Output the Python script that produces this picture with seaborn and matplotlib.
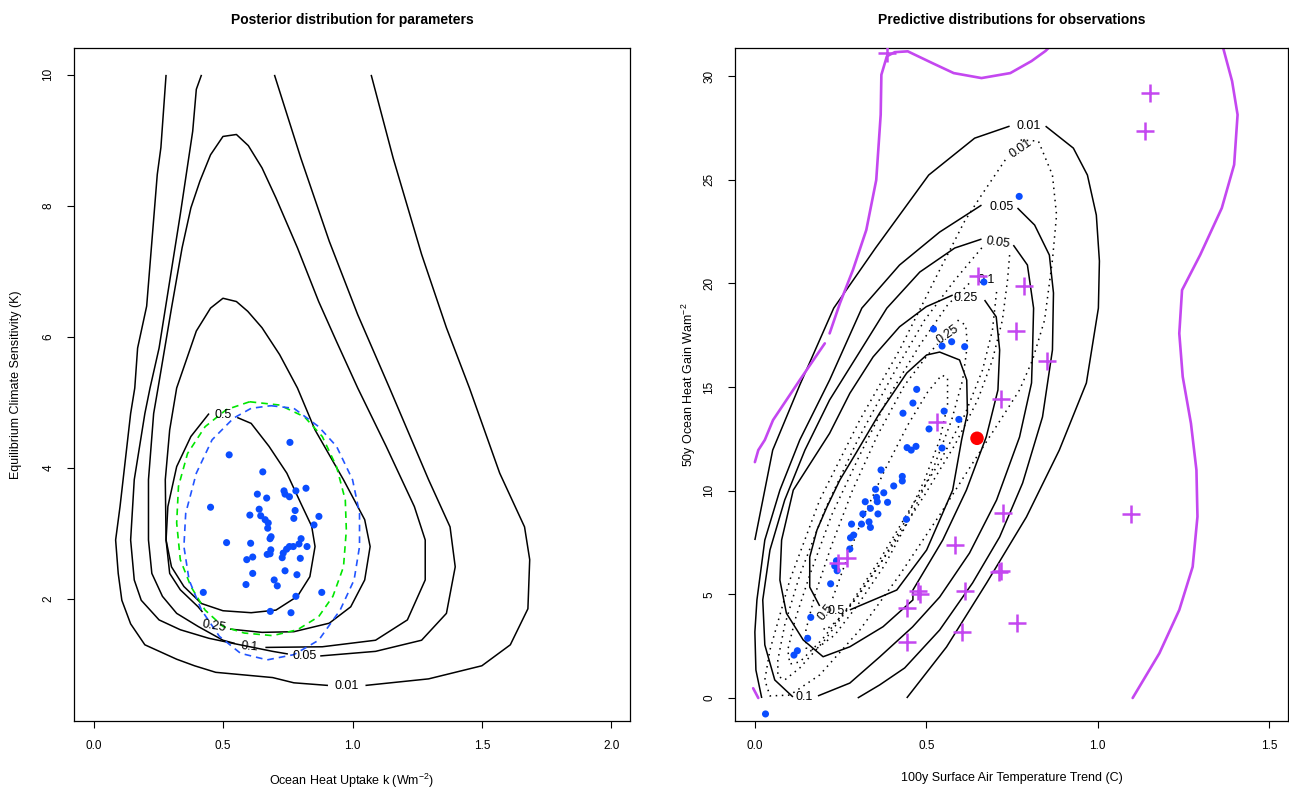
import numpy as np
import matplotlib
matplotlib.use("Agg")
import matplotlib.pyplot as plt
import seaborn as sns

sns.set_theme(style="white")
plt.rcParams["font.family"] = ["Liberation Sans", "DejaVu Sans"]
plt.rcParams["mathtext.default"] = "regular"
for key in ["text.color", "axes.labelcolor", "xtick.color", "ytick.color", "axes.edgecolor"]:
    plt.rcParams[key] = "black"

# ---------------- left panel: posterior of (k, S) ----------------
# ensemble members
k_pts = [0.758, 0.523, 0.653, 0.632, 0.668, 0.735, 0.739, 0.756, 0.781, 0.820,
         0.451, 0.639, 0.603, 0.645, 0.662, 0.674, 0.778, 0.773, 0.870, 0.851,
         0.672, 0.685, 0.681, 0.513, 0.606, 0.801, 0.793, 0.824, 0.756, 0.745,
         0.732, 0.771, 0.684, 0.681, 0.670, 0.614, 0.591, 0.728, 0.798, 0.739,
         0.614, 0.785, 0.697, 0.709, 0.588, 0.423, 0.881, 0.781, 0.682, 0.762]
s_pts = [4.39, 4.20, 3.94, 3.60, 3.54, 3.65, 3.60, 3.56, 3.65, 3.69,
         3.40, 3.37, 3.28, 3.27, 3.21, 3.16, 3.35, 3.23, 3.26, 3.13,
         3.08, 2.95, 2.92, 2.86, 2.85, 2.92, 2.84, 2.80, 2.80, 2.76,
         2.70, 2.80, 2.75, 2.69, 2.68, 2.64, 2.60, 2.63, 2.62, 2.43,
         2.39, 2.37, 2.29, 2.20, 2.22, 2.10, 2.10, 2.04, 1.81, 1.79]

# posterior contours, each a list of segments (gaps where labels sit)
post_001 = [
    [(0.279, 10.0), (0.259, 8.89), (0.245, 8.48), (0.204, 6.47), (0.169, 5.83), (0.158, 5.22),
     (0.142, 4.83), (0.101, 3.41), (0.084, 2.90), (0.094, 2.39), (0.108, 1.98), (0.142, 1.62),
     (0.197, 1.30), (0.320, 1.08), (0.389, 0.98), (0.471, 0.88), (0.691, 0.80), (0.773, 0.72),
     (0.905, 0.68)],
    [(1.050, 0.68), (1.294, 0.78), (1.500, 0.98), (1.610, 1.30), (1.678, 1.85), (1.685, 2.60),
     (1.665, 3.10), (1.569, 3.92), (1.452, 5.22), (1.363, 6.14), (1.267, 7.26), (1.157, 8.73),
     (1.072, 10.0)],
]
post_005 = [
    [(0.416, 10.0), (0.396, 9.78), (0.382, 9.14), (0.334, 7.87), (0.293, 6.85), (0.252, 5.83),
     (0.217, 5.22), (0.197, 4.83), (0.156, 3.82), (0.142, 2.90), (0.156, 2.29), (0.183, 1.98),
     (0.252, 1.68), (0.334, 1.53), (0.444, 1.40), (0.540, 1.32), (0.691, 1.20), (0.750, 1.16)],
    [(0.875, 1.13), (1.089, 1.20), (1.267, 1.37), (1.363, 1.78), (1.397, 2.49), (1.377, 3.10),
     (1.294, 3.82), (1.143, 5.22), (1.020, 6.34), (0.910, 7.46), (0.800, 8.73), (0.698, 10.0)],
]
post_01 = [
    [(0.663, 1.26), (0.883, 1.27), (1.089, 1.37), (1.212, 1.68), (1.281, 2.29), (1.281, 2.90),
     (1.239, 3.41), (1.130, 4.33), (1.020, 5.22), (0.938, 5.93), (0.869, 6.54), (0.787, 7.36),
     (0.704, 8.12), (0.650, 8.58), (0.597, 8.92), (0.551, 9.09), (0.499, 9.06), (0.451, 8.78),
     (0.410, 8.38), (0.375, 7.97), (0.341, 7.36), (0.300, 6.44), (0.248, 5.22), (0.231, 4.83),
     (0.211, 3.82), (0.211, 2.90), (0.224, 2.39), (0.265, 2.04), (0.320, 1.78), (0.403, 1.58),
     (0.499, 1.37), (0.545, 1.32)],
]
post_025 = [
    [(0.526, 1.54), (0.650, 1.49), (0.773, 1.50), (0.910, 1.63), (0.993, 1.88), (1.047, 2.29),
     (1.068, 2.80), (1.047, 3.21), (0.965, 3.82), (0.855, 4.58), (0.787, 5.22), (0.718, 5.73),
     (0.650, 6.14), (0.595, 6.39), (0.551, 6.54), (0.499, 6.59), (0.451, 6.44), (0.396, 6.09),
     (0.320, 5.22), (0.293, 4.58), (0.276, 3.82), (0.279, 2.90), (0.293, 2.39), (0.334, 2.14),
     (0.403, 1.88), (0.420, 1.80)],
]
post_05 = [
    [(0.554, 4.77), (0.608, 4.68), (0.677, 4.33), (0.746, 3.92), (0.800, 3.46), (0.842, 3.11),
     (0.855, 2.80), (0.835, 2.34), (0.787, 2.04), (0.704, 1.83), (0.608, 1.79), (0.499, 1.82),
     (0.416, 1.93), (0.348, 2.19), (0.300, 2.49), (0.279, 2.90), (0.286, 3.41), (0.320, 4.02),
     (0.375, 4.48), (0.445, 4.83)],
]
post_levels = ["0.01", "0.05", "0.1", "0.25", "0.5"]
post_label_k = [0.979, 0.814, 0.602, 0.464, 0.499]
post_label_s = [0.67, 1.13, 1.27, 1.58, 4.81]
post_label_rot = [0, 0, -5, -10, 0]

# prior (green) and ensemble (blue) ellipses
green_ring = [(0.602, 5.01), (0.718, 4.96), (0.814, 4.78), (0.883, 4.48), (0.938, 4.02),
              (0.972, 3.51), (0.976, 3.05), (0.965, 2.49), (0.924, 2.04), (0.869, 1.73),
              (0.787, 1.53), (0.691, 1.44), (0.581, 1.48), (0.499, 1.58), (0.430, 1.83),
              (0.375, 2.19), (0.334, 2.60), (0.320, 3.16), (0.327, 3.72), (0.362, 4.22),
              (0.430, 4.63), (0.512, 4.89), (0.602, 5.01)]
blue_ring = [(0.684, 4.95), (0.773, 4.91), (0.869, 4.63), (0.938, 4.33), (1.000, 3.82),
             (1.027, 3.31), (1.027, 2.80), (1.006, 2.29), (0.952, 1.83), (0.869, 1.37),
             (0.773, 1.15), (0.670, 1.07), (0.567, 1.17), (0.485, 1.43), (0.416, 1.83),
             (0.368, 2.29), (0.348, 2.80), (0.355, 3.31), (0.396, 3.92), (0.457, 4.43),
             (0.540, 4.76), (0.608, 4.91), (0.684, 4.95)]

# ---------------- right panel: predictive distributions ----------------
t_pts = [0.771, 0.668, 0.521, 0.546, 0.574, 0.612, 0.472, 0.461, 0.432, 0.552,
         0.595, 0.508, 0.444, 0.456, 0.470, 0.546, 0.368, 0.430, 0.430, 0.405,
         0.352, 0.376, 0.355, 0.387, 0.322, 0.357, 0.337, 0.315, 0.359, 0.442,
         0.282, 0.311, 0.333, 0.337, 0.288, 0.279, 0.277, 0.238, 0.233, 0.240,
         0.221, 0.163, 0.154, 0.124, 0.114, 0.031]
h_pts = [24.20, 20.07, 17.80, 16.98, 17.19, 16.95, 14.89, 14.23, 13.74, 13.84,
         13.44, 12.98, 12.08, 11.96, 12.14, 12.06, 11.00, 10.69, 10.47, 10.23,
         10.07, 9.90, 9.68, 9.44, 9.47, 9.47, 9.15, 8.88, 8.88, 8.62,
         8.39, 8.39, 8.50, 8.23, 7.86, 7.73, 7.19, 6.62, 6.37, 6.14,
         5.51, 3.89, 2.88, 2.28, 2.07, -0.77]

# observation-like crosses
t_obs = [0.385, 1.154, 1.139, 0.652, 0.784, 0.763, 0.853, 0.719, 0.530, 0.725, 1.098,
         0.585, 0.711, 0.717, 0.612, 0.475, 0.481, 0.443, 0.766, 0.603, 0.443, 0.242, 0.268]
h_obs = [31.1, 29.18, 27.35, 20.36, 19.87, 17.70, 16.26, 14.42, 13.31, 8.92, 8.88,
         7.38, 6.08, 6.13, 5.16, 5.16, 5.02, 4.34, 3.62, 3.18, 2.70, 6.51, 6.75]

t_best, h_best = [0.648], [12.53]

# solid: predictive incl. observation error
pred_05 = [[(0.277, 4.25), (0.414, 5.21), (0.501, 7.14), (0.577, 10.03), (0.603, 12.45),
            (0.620, 13.75), (0.618, 15.34), (0.597, 16.31), (0.539, 16.69), (0.501, 16.55),
            (0.443, 15.68), (0.364, 13.75), (0.297, 11.87), (0.248, 10.52), (0.210, 9.21),
            (0.181, 8.10), (0.160, 6.80), (0.160, 5.35), (0.189, 4.44)]]
pred_025 = [[(0.670, 19.20), (0.704, 18.39), (0.714, 16.79), (0.709, 14.86), (0.675, 12.60),
             (0.617, 10.03), (0.548, 7.62), (0.461, 5.21), (0.461, 4.73), (0.374, 3.44),
             (0.277, 2.47), (0.199, 1.99), (0.141, 2.80), (0.092, 4.09), (0.073, 5.69),
             (0.078, 7.62), (0.112, 10.03), (0.218, 12.77), (0.277, 14.70), (0.345, 16.46),
             (0.422, 17.91), (0.500, 18.88), (0.577, 19.44)]]
pred_01 = [[(0.184, 0.10), (0.277, 0.72), (0.364, 1.98), (0.460, 3.43), (0.539, 4.87),
            (0.626, 6.99), (0.705, 9.55), (0.772, 12.59), (0.807, 15.20), (0.810, 16.79),
            (0.813, 18.81), (0.795, 20.89), (0.754, 21.85)],
           [(0.661, 22.14), (0.583, 21.71), (0.481, 20.55), (0.385, 18.81), (0.300, 16.55),
            (0.218, 14.38), (0.146, 11.96), (0.087, 9.55), (0.044, 7.14), (0.023, 4.73),
            (0.029, 2.56), (0.058, 0.87), (0.111, 0.05)]]
pred_005 = [[(0.020, 0.0), (0.003, 1.35), (0.0, 3.18), (0.006, 4.73), (0.029, 7.62),
             (0.073, 10.03), (0.131, 12.45), (0.218, 15.34), (0.312, 18.81), (0.422, 20.89),
             (0.539, 22.48), (0.661, 23.78)],
            [(0.766, 23.64), (0.816, 22.82), (0.859, 21.37), (0.871, 19.54), (0.868, 16.79),
             (0.839, 13.56), (0.781, 10.37), (0.714, 7.77), (0.635, 5.55), (0.539, 3.28),
             (0.437, 1.45), (0.364, 0.63), (0.300, 0.0)]]
pred_001 = [[(0.0, 7.62), (0.052, 11.96), (0.131, 15.10), (0.230, 18.81), (0.352, 21.71),
             (0.507, 25.23), (0.641, 27.01), (0.743, 27.59)],
            [(0.848, 27.59), (0.929, 26.53), (0.970, 25.23), (0.996, 23.30), (1.005, 21.08),
             (1.002, 18.81), (0.967, 15.20), (0.888, 11.96), (0.792, 8.73), (0.676, 5.55),
             (0.559, 2.46), (0.443, 0.0)]]
pred_levels = ["0.01", "0.05", "0.25", "0.1", "0.5"]
pred_label_t = [0.798, 0.719, 0.616, 0.143, 0.238]
pred_label_h = [27.59, 23.67, 19.30, 0.06, 4.21]

# dotted: emulator only
emul_001 = [[(0.775, 26.92), (0.827, 26.87), (0.868, 25.23), (0.880, 23.30), (0.868, 21.13),
             (0.845, 18.23), (0.810, 16.31), (0.772, 14.86), (0.722, 13.56), (0.641, 11.48),
             (0.539, 8.83), (0.422, 5.93), (0.306, 3.28), (0.189, 1.11), (0.102, 0.14),
             (0.044, 0.10), (0.029, 0.87), (0.044, 2.32), (0.102, 5.69), (0.189, 9.55),
             (0.306, 13.41), (0.422, 16.79), (0.524, 20.16), (0.612, 23.01), (0.661, 24.26),
             (0.734, 26.05)]]
emul_005 = [[(0.743, 21.37), (0.737, 20.16), (0.722, 18.23), (0.693, 16.31), (0.650, 14.38),
             (0.583, 12.20), (0.495, 9.79), (0.393, 7.14), (0.291, 4.73), (0.204, 2.80),
             (0.131, 1.45), (0.087, 0.87), (0.067, 1.06), (0.067, 1.83), (0.087, 3.52),
             (0.131, 5.93), (0.204, 9.07), (0.300, 12.45), (0.402, 15.58), (0.495, 18.23),
             (0.583, 20.16), (0.664, 21.76)]]
emul_01 = [[(0.705, 19.59), (0.693, 17.75), (0.664, 15.82), (0.612, 13.65), (0.539, 11.38),
            (0.451, 9.07), (0.364, 6.66), (0.277, 4.49), (0.195, 2.80), (0.131, 1.74),
            (0.102, 1.64), (0.096, 2.32), (0.117, 3.76), (0.160, 5.93), (0.224, 8.83),
            (0.306, 11.72), (0.393, 14.62), (0.481, 17.03), (0.562, 18.96), (0.626, 20.02)]]
emul_025 = [[(0.591, 18.23), (0.615, 17.99), (0.620, 17.03), (0.606, 15.34), (0.574, 13.41),
             (0.524, 11.24), (0.457, 8.83), (0.379, 6.42), (0.300, 4.49), (0.233, 3.04),
             (0.175, 2.32), (0.149, 2.41), (0.149, 3.28), (0.175, 4.97), (0.224, 7.38),
             (0.285, 10.03), (0.358, 12.69), (0.437, 15.10), (0.504, 16.55), (0.533, 17.08)]]
emul_05 = [[(0.227, 4.82), (0.262, 6.42), (0.312, 8.59), (0.379, 11.00), (0.446, 13.17),
            (0.504, 14.76), (0.545, 15.58), (0.562, 15.44), (0.562, 14.13), (0.539, 12.45),
            (0.495, 10.52), (0.437, 8.49), (0.364, 6.42), (0.297, 4.82), (0.242, 3.76),
            (0.207, 3.28), (0.189, 3.47)]]
emul_levels = ["0.01", "0.05", "0.1", "0.25", "0.5"]
emul_label_t = [0.775, 0.709, 0.676, 0.562, 0.207]
emul_label_h = [26.53, 21.98, 20.16, 17.51, 4.15]
emul_label_rot = [35, -8, 0, 35, 50]

# purple outline
purple_left = [(0.0, 11.38), (0.010, 11.96), (0.029, 12.45), (0.053, 13.41), (0.131, 15.34),
               (0.204, 17.11)]
purple_mid = [(0.218, 17.59), (0.248, 19.04), (0.286, 20.65), (0.325, 22.58), (0.354, 24.99),
              (0.367, 28.14), (0.369, 30.07), (0.385, 30.96), (0.408, 31.16), (0.446, 31.2),
              (0.518, 30.63), (0.580, 30.15), (0.661, 29.91), (0.745, 30.15), (0.807, 30.73),
              (0.848, 31.22), (0.865, 31.5)]
purple_right = [(1.360, 31.6), (1.366, 31.36), (1.392, 29.76), (1.408, 28.14), (1.398, 25.73),
                (1.362, 23.64), (1.299, 21.38), (1.246, 19.68), (1.238, 17.59), (1.248, 15.50),
                (1.272, 13.25), (1.288, 11.0), (1.291, 8.75), (1.277, 6.33), (1.238, 4.25),
                (1.180, 2.16), (1.102, 0.0)]
purple_corner = [(-0.005, 0.47), (0.010, 0.0)]


def draw_segments(ax, segments, **kw):
    for seg in segments:
        xs, ys = zip(*seg)
        ax.plot(xs, ys, **kw)


def style_axes(ax):
    for sp in ax.spines.values():
        sp.set_visible(True)
        sp.set_color("black")
        sp.set_linewidth(0.9)
    ax.tick_params(axis="both", direction="out", length=5, width=0.8,
                   color="black", labelsize=8.5, bottom=True, left=True)
    ax.tick_params(axis="x", pad=9)
    ax.tick_params(axis="y", pad=9, labelrotation=90)
    for lab in ax.get_yticklabels():
        lab.set_va("center")


fig = plt.figure(figsize=(12.89, 7.91), dpi=100)
ax1 = fig.add_axes([0.0574, 0.0885, 0.4314, 0.8508])
ax2 = fig.add_axes([0.5702, 0.0885, 0.4290, 0.8508])

# ---- left ----
line_kw = dict(color="black", lw=1.1, solid_capstyle="butt")
for segs in [post_001, post_005, post_01, post_025, post_05]:
    draw_segments(ax1, segs, **line_kw)
for lev, x, y, r in zip(post_levels, post_label_k, post_label_s, post_label_rot):
    ax1.text(x, y, lev, ha="center", va="center", fontsize=9, rotation=r)

gx, gy = zip(*green_ring)
ax1.plot(gx, gy, color="#00e600", lw=1.2, ls=(0, (4, 3)))
bx, by = zip(*blue_ring)
ax1.plot(bx, by, color="#2255ff", lw=1.2, ls=(0, (4, 3)))

sns.scatterplot(x=k_pts, y=s_pts, ax=ax1, color="#0a4dff", s=26,
                edgecolor="none", zorder=5)

ax1.set_xlim(-0.077, 2.073)
ax1.set_ylim(0.137, 10.41)
ax1.set_xticks([0.0, 0.5, 1.0, 1.5, 2.0])
ax1.set_xticklabels(["0.0", "0.5", "1.0", "1.5", "2.0"])
ax1.set_yticks([2, 4, 6, 8, 10])
ax1.set_yticklabels(["2", "4", "6", "8", "10"])
style_axes(ax1)
ax1.set_xlabel("Ocean Heat Uptake k (Wm$^{-2}$)", fontsize=9, labelpad=14)
ax1.set_ylabel("Equilibrium Climate Sensitivity (K)", fontsize=9, labelpad=15)
ax1.set_title("Posterior distribution for parameters", fontsize=10,
              fontweight="bold", pad=17)

# ---- right ----
for segs in [pred_001, pred_005, pred_01, pred_025, pred_05]:
    draw_segments(ax2, segs, **line_kw)
for lev, x, y in zip(pred_levels, pred_label_t, pred_label_h):
    ax2.text(x, y, lev, ha="center", va="center", fontsize=9)

dot_kw = dict(color="black", lw=1.1, ls=(0, (1, 3)))
for segs in [emul_001, emul_005, emul_01, emul_025, emul_05]:
    draw_segments(ax2, segs, **dot_kw)
for lev, x, y, r in zip(emul_levels, emul_label_t, emul_label_h, emul_label_rot):
    ax2.text(x, y, lev, ha="center", va="center", fontsize=9, rotation=r)

purple = "#c447f0"
for seg in [purple_left, purple_mid, purple_right, purple_corner]:
    px, py = zip(*seg)
    ax2.plot(px, py, color=purple, lw=1.9)

sns.scatterplot(x=t_pts, y=h_pts, ax=ax2, color="#0a4dff", s=26,
                edgecolor="none", zorder=5)
ax2.plot(t_obs, h_obs, ls="none", marker="+", ms=13, mew=1.8, color=purple, zorder=6)
sns.scatterplot(x=t_best, y=h_best, ax=ax2, color="red", s=95,
                edgecolor="none", zorder=7)

ax2.set_xlim(-0.058, 1.555)
ax2.set_ylim(-1.11, 31.36)
ax2.set_xticks([0.0, 0.5, 1.0, 1.5])
ax2.set_xticklabels(["0.0", "0.5", "1.0", "1.5"])
ax2.set_yticks([0, 5, 10, 15, 20, 25, 30])
ax2.set_yticklabels(["0", "5", "10", "15", "20", "25", "30"])
style_axes(ax2)
ax2.set_xlabel("100y Surface Air Temperature Trend (C)", fontsize=9, labelpad=14)
ax2.set_ylabel("50y Ocean Heat Gain Wam$^{-2}$", fontsize=9, labelpad=4)
ax2.set_title("Predictive distributions for observations", fontsize=10,
              fontweight="bold", pad=17)

fig.savefig("out.png", dpi=100)
